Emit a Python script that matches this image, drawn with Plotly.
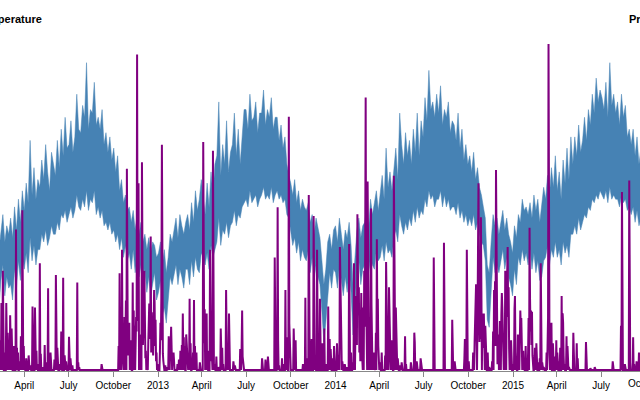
import pandas as pd
import plotly.graph_objects as go

# ---------------- axis ticks ----------------
tick_dates = ["2012-04-01", "2012-07-01", "2012-10-01", "2013-01-01", "2013-04-01",
              "2013-07-01", "2013-10-01", "2014-01-01", "2014-04-01", "2014-07-01",
              "2014-10-01", "2015-01-01", "2015-04-01", "2015-07-01", "2015-10-01"]
tick_labels = ["April", "July", "October", "2013", "April", "July", "October", "2014",
               "April", "July", "October", "2015", "April", "July", "October"]
x_window = ["2012-02-11 02:24", "2015-09-19 02:24"]

# ---------------- temperature (°C), sampled every 4 days from 2012-02-01 ----------------
temp_start = "2012-02-01"
tmax_2012 = [8.9, 11.1, 7.2, 10.0, 12.2, 8.3, 10.6, 9.4,
             11.7, 8.9, 13.3, 10.0, 14.4, 11.1, 15.6,
             12.8, 16.7, 13.9, 22.8, 15.0, 18.9, 14.4, 17.2,
             16.1, 20.0, 17.2, 22.2, 18.3, 15.6, 21.1, 19.4,
             17.8, 22.8, 18.9, 24.4, 20.6, 26.1, 21.7,
             22.2, 25.6, 21.1, 23.3, 29.4, 24.4, 23.9, 27.8,
             26.1, 33.9, 24.4, 27.2, 26.7, 31.1, 25.0, 26.1,
             24.4, 27.2, 22.2, 23.9, 21.1, 23.3, 20.0,
             21.7, 18.3, 20.6, 15.6, 17.2, 13.9, 15.0, 12.8,
             13.3, 11.1, 12.8, 10.0, 12.2, 9.4, 11.1,
             8.3, 9.4, 7.2, 8.9, 6.7, 8.3, 7.8, 6.1]
tmin_2012 = [1.1, 3.9, -1.0, 2.8, 5.0, 0.6, 3.3, 1.7,
             2.2, 0.0, 4.4, 1.7, 5.6, 2.8, 6.1,
             4.4, 6.7, 3.9, 8.9, 5.6, 7.8, 5.0, 7.2,
             7.2, 9.4, 8.3, 10.0, 7.8, 8.9, 10.6, 9.4,
             9.4, 11.1, 10.0, 12.2, 11.7, 12.8, 11.1,
             12.2, 13.3, 11.7, 12.8, 15.0, 13.3, 12.8, 14.4,
             13.3, 15.6, 12.8, 14.4, 13.9, 15.6, 12.2, 13.3,
             11.7, 12.8, 10.6, 11.1, 10.0, 11.1, 9.4,
             10.0, 8.3, 9.4, 7.2, 8.9, 6.1, 7.8, 5.6,
             6.7, 4.4, 7.2, 3.9, 6.1, 3.3, 5.0,
             2.8, 4.4, 1.1, 3.3, 0.6, 2.2, 3.9, 0.0]
tmax_2013 = [6.7, 8.3, 5.0, 7.2, 3.9, 6.1, 9.4, 8.3,
             10.0, 11.7, 8.9, 12.2, 10.6, 9.4, 11.1,
             12.2, 10.0, 13.9, 11.1, 15.6, 12.8, 14.4, 17.2,
             14.4, 12.2, 16.7, 13.3, 18.3, 15.0, 19.4,
             20.6, 28.3, 17.8, 22.2, 19.4, 25.6, 18.3, 21.1,
             22.2, 26.7, 20.6, 24.4, 19.4, 23.3, 27.2,
             27.2, 24.4, 29.4, 25.6, 26.1, 28.3, 23.9, 26.7,
             26.7, 30.0, 25.0, 27.2, 26.1, 28.9, 24.4, 26.1,
             26.1, 22.8, 25.0, 21.7, 23.3, 19.4, 17.8,
             16.7, 15.0, 17.2, 13.9, 15.6, 12.8, 14.4, 13.3,
             12.8, 13.9, 11.1, 12.2, 9.4, 11.7, 10.0, 8.9,
             5.6, 2.2, 4.4, 8.3, 9.4, 7.2, 10.0]
tmin_2013 = [1.1, 2.8, -2.2, -1.1, -3.3, 0.0, 3.3, 2.2,
             3.9, 5.0, 2.2, 4.4, 3.3, 1.7, 4.4,
             4.4, 2.2, 5.6, 3.3, 6.1, 4.4, 3.9, 6.7,
             6.1, 5.0, 6.7, 4.4, 7.8, 6.1, 7.2,
             8.3, 11.7, 7.8, 10.0, 9.4, 11.1, 8.9, 10.6,
             11.1, 12.8, 10.6, 12.2, 11.7, 13.3, 13.9,
             14.4, 13.3, 15.6, 13.9, 14.4, 15.0, 13.3, 14.4,
             15.0, 16.1, 14.4, 15.0, 14.4, 16.1, 13.9, 15.0,
             15.6, 14.4, 15.0, 13.9, 14.4, 12.2, 11.7,
             9.4, 7.8, 8.9, 6.7, 8.3, 5.6, 7.2, 6.1,
             5.6, 7.2, 3.9, 6.1, 2.8, 5.0, 3.3, 2.2,
             -1.7, -6.0, -3.3, 1.1, 3.9, 1.7, 4.4]
tmax_2014 = [10.6, 8.3, 11.7, 9.4, 7.2, 10.0, 8.9, 11.1,
             7.8, 2.2, 5.6, 10.0, 11.7, 8.9, 10.6,
             11.1, 13.3, 10.0, 14.4, 12.2, 13.9, 15.6, 12.8,
             15.0, 17.8, 14.4, 21.7, 16.1, 18.3, 15.6,
             18.9, 21.7, 17.2, 26.7, 22.2, 19.4, 23.9, 20.6,
             22.8, 19.4, 24.4, 21.1, 26.7, 20.6, 25.6, 23.3,
             28.9, 25.6, 32.8, 27.2, 28.3, 26.1, 29.4,
             26.7, 30.6, 25.0, 27.2, 26.1, 28.3, 23.9, 25.6,
             25.0, 22.8, 26.7, 21.7, 24.4, 20.0, 22.2, 19.4,
             20.6, 18.3, 21.1, 17.2, 18.9, 16.1, 15.0,
             13.3, 11.7, 5.0, 3.9, 8.3, 12.2, 10.6, 11.7,
             9.4, 11.1, 12.8, 10.0, 11.7, 9.4, 8.3, 6.7]
tmin_2014 = [3.9, 1.7, 5.0, 2.8, 0.6, 3.3, 1.1, 4.4,
             1.1, -5.0, -1.1, 3.9, 5.6, 2.2, 4.4,
             5.0, 6.7, 3.9, 6.1, 5.0, 4.4, 7.2, 5.6,
             6.1, 7.8, 5.6, 8.3, 6.7, 7.2, 6.1,
             8.9, 10.0, 8.3, 12.2, 10.6, 9.4, 11.1, 10.0,
             11.7, 10.6, 12.8, 11.1, 13.3, 11.7, 12.8, 12.2,
             14.4, 13.3, 15.6, 14.4, 15.0, 13.3, 14.4,
             14.4, 15.6, 13.3, 15.0, 13.3, 14.4, 12.8, 13.3,
             13.3, 12.2, 13.9, 11.7, 12.8, 11.1, 12.2, 10.6,
             11.7, 10.6, 12.2, 10.0, 11.1, 9.4, 8.3,
             7.8, 5.6, -2.8, -3.9, 1.1, 6.1, 3.9, 5.0,
             3.9, 5.6, 7.2, 4.4, 6.1, 3.3, 2.2, 0.6]
tmax_2015 = [10.6, 8.9, 12.2, 11.1, 14.4, 12.8, 13.3,
             12.2, 13.9, 11.7, 15.0, 12.8, 14.4, 11.1,
             13.3, 16.1, 14.4, 17.8, 15.0, 18.9, 16.1, 20.6,
             15.6, 18.3, 14.4, 20.0, 16.7, 21.7, 17.2, 23.3,
             19.4, 23.3, 20.6, 25.0, 21.1, 22.8, 26.1,
             22.8, 27.2, 25.0, 29.4, 26.7, 31.7, 28.3, 30.0,
             28.9, 27.2, 31.1, 26.1, 33.9, 27.8, 29.4, 26.7,
             28.3, 25.0, 29.4, 26.1, 27.8, 23.3, 24.4,
             22.2, 24.4, 20.6, 23.3, 19.4, 21.7, 18.9, 20.0]
tmin_2015 = [4.4, 2.2, 6.1, 5.0, 7.2, 5.6, 6.7,
             5.0, 7.2, 4.4, 6.7, 3.9, 5.6, 2.8,
             3.3, 5.6, 6.1, 7.8, 5.0, 7.2, 6.1, 8.3,
             6.1, 7.2, 5.0, 8.3, 6.7, 7.8, 6.1, 9.4,
             9.4, 10.6, 9.4, 11.7, 10.0, 11.1, 12.2,
             11.7, 13.3, 12.8, 14.4, 13.9, 15.0, 14.4, 15.6,
             15.0, 14.4, 15.6, 13.9, 16.1, 14.4, 15.0, 14.4,
             14.4, 13.3, 15.0, 13.9, 14.4, 12.8, 13.3,
             12.2, 13.3, 11.1, 12.8, 10.6, 11.7, 9.4, 10.6]

# ---------------- precipitation (mm) on wet days; all other days are dry ----------------
rain_2012 = [("2012-02-02", 4.3), ("2012-02-05", 2.5), ("2012-02-08", 1.8), ("2012-02-11", 5.1),
             ("2012-02-14", 11.5), ("2012-02-17", 17.0), ("2012-02-21", 3.0), ("2012-02-24", 11.5),
             ("2012-02-27", 6.4), ("2012-03-01", 2.0), ("2012-03-03", 9.4), ("2012-03-06", 7.1),
             ("2012-03-10", 4.1), ("2012-03-12", 2.3), ("2012-03-15", 24.1), ("2012-03-17", 3.8),
             ("2012-03-19", 3.0), ("2012-03-22", 1.5), ("2012-03-25", 5.8), ("2012-03-28", 27.4),
             ("2012-03-31", 4.1), ("2012-04-02", 1.3), ("2012-04-05", 2.0), ("2012-04-10", 2.5),
             ("2012-04-13", 0.8), ("2012-04-18", 10.9), ("2012-04-23", 10.7), ("2012-04-26", 3.3),
             ("2012-04-28", 1.0), ("2012-05-03", 18.3), ("2012-05-05", 2.8), ("2012-05-09", 0.5),
             ("2012-05-13", 4.3), ("2012-05-16", 1.3), ("2012-05-20", 14.0), ("2012-05-25", 3.0),
             ("2012-06-02", 1.8), ("2012-06-05", 16.3), ("2012-06-08", 3.8), ("2012-06-13", 1.0),
             ("2012-06-16", 6.6), ("2012-06-20", 15.8), ("2012-06-23", 2.5), ("2012-06-26", 1.5),
             ("2012-07-02", 5.7), ("2012-07-05", 2.0), ("2012-07-09", 0.8), ("2012-07-19", 15.0),
             ("2012-07-21", 1.3), ("2012-07-23", 0.5), ("2012-09-07", 1.0),
             ("2012-10-12", 4.1), ("2012-10-14", 16.6), ("2012-10-16", 6.9), ("2012-10-17", 2.0),
             ("2012-10-19", 20.6), ("2012-10-20", 3.8), ("2012-10-21", 7.9), ("2012-10-22", 1.3),
             ("2012-10-24", 9.1), ("2012-10-26", 4.8), ("2012-10-27", 11.9), ("2012-10-29", 34.5),
             ("2012-10-30", 6.1), ("2012-10-31", 2.5), ("2012-11-01", 4.6), ("2012-11-02", 3.0),
             ("2012-11-03", 8.1), ("2012-11-05", 1.0), ("2012-11-06", 5.1), ("2012-11-10", 15.0),
             ("2012-11-12", 10.2), ("2012-11-13", 3.3), ("2012-11-14", 7.6), ("2012-11-16", 2.8),
             ("2012-11-17", 9.1), ("2012-11-18", 6.6), ("2012-11-19", 54.1), ("2012-11-20", 12.7),
             ("2012-11-21", 8.4), ("2012-11-22", 32.0), ("2012-11-24", 3.6), ("2012-11-26", 1.5),
             ("2012-11-27", 6.1), ("2012-11-29", 35.6), ("2012-11-30", 10.9), ("2012-12-01", 4.3),
             ("2012-12-02", 7.6), ("2012-12-03", 9.4), ("2012-12-04", 17.0), ("2012-12-05", 5.1),
             ("2012-12-06", 2.0), ("2012-12-07", 3.3), ("2012-12-09", 1.3), ("2012-12-10", 0.5),
             ("2012-12-12", 4.6), ("2012-12-13", 6.9), ("2012-12-14", 11.4), ("2012-12-15", 8.1),
             ("2012-12-16", 5.3), ("2012-12-17", 22.9), ("2012-12-18", 3.0), ("2012-12-19", 9.9),
             ("2012-12-20", 6.4), ("2012-12-21", 4.3), ("2012-12-22", 2.5), ("2012-12-23", 7.1),
             ("2012-12-24", 13.7), ("2012-12-25", 11.7), ("2012-12-26", 4.1), ("2012-12-27", 8.6),
             ("2012-12-28", 1.5), ("2012-12-29", 3.0), ("2012-12-31", 1.0)]
rain_2013 = [("2013-01-05", 3.3), ("2013-01-06", 8.1), ("2013-01-07", 5.1), ("2013-01-08", 14.0),
             ("2013-01-09", 38.6), ("2013-01-10", 9.1), ("2013-01-11", 2.8), ("2013-01-12", 1.5),
             ("2013-01-16", 0.8), ("2013-01-20", 0.5), ("2013-01-23", 5.8), ("2013-01-24", 2.0),
             ("2013-01-26", 3.8), ("2013-01-27", 4.3), ("2013-01-28", 7.4), ("2013-01-29", 3.0),
             ("2013-01-31", 2.5), ("2013-02-01", 1.3), ("2013-02-02", 3.0), ("2013-02-03", 0.5),
             ("2013-02-10", 1.0), ("2013-02-13", 1.8), ("2013-02-16", 3.3), ("2013-02-19", 4.3),
             ("2013-02-21", 9.7), ("2013-02-22", 2.3), ("2013-02-23", 5.6), ("2013-02-25", 4.1),
             ("2013-02-28", 6.1), ("2013-03-01", 3.8), ("2013-03-02", 1.5), ("2013-03-05", 2.3),
             ("2013-03-07", 12.2), ("2013-03-09", 4.6), ("2013-03-12", 1.0), ("2013-03-14", 3.0),
             ("2013-03-16", 12.0), ("2013-03-18", 4.1), ("2013-03-20", 2.0), ("2013-03-21", 3.0),
             ("2013-03-28", 1.3), ("2013-04-04", 39.1), ("2013-04-05", 8.4), ("2013-04-06", 4.6),
             ("2013-04-07", 10.4), ("2013-04-09", 2.5), ("2013-04-11", 9.7), ("2013-04-13", 3.3),
             ("2013-04-18", 20.6), ("2013-04-19", 6.4), ("2013-04-20", 1.5), ("2013-04-21", 4.3),
             ("2013-04-24", 37.6), ("2013-04-27", 1.0), ("2013-05-01", 2.3), ("2013-05-05", 0.5),
             ("2013-05-10", 7.1), ("2013-05-13", 3.8), ("2013-05-15", 1.0), ("2013-05-21", 13.7),
             ("2013-05-22", 4.6), ("2013-05-24", 2.0), ("2013-05-27", 9.7), ("2013-05-28", 1.8),
             ("2013-06-05", 1.5), ("2013-06-08", 0.8), ("2013-06-19", 3.6), ("2013-06-22", 4.1),
             ("2013-06-23", 10.2), ("2013-06-24", 2.3), ("2013-06-25", 1.3), ("2013-08-03", 2.0),
             ("2013-08-10", 1.8), ("2013-08-15", 2.3), ("2013-08-29", 19.3), ("2013-08-30", 3.0),
             ("2013-09-03", 1.5), ("2013-09-04", 27.9), ("2013-09-05", 5.1), ("2013-09-07", 0.8),
             ("2013-09-13", 2.0), ("2013-09-15", 1.0), ("2013-09-20", 13.7), ("2013-09-22", 3.3),
             ("2013-09-23", 5.6), ("2013-09-27", 43.4), ("2013-09-28", 8.0), ("2013-09-29", 4.1),
             ("2013-10-07", 7.1), ("2013-10-10", 1.3), ("2013-10-11", 5.1), ("2013-10-26", 1.0),
             ("2013-10-31", 12.4), ("2013-11-02", 2.0), ("2013-11-07", 30.0), ("2013-11-08", 3.8),
             ("2013-11-12", 3.0), ("2013-11-13", 5.3), ("2013-11-17", 26.4), ("2013-11-18", 6.1),
             ("2013-11-19", 2.5), ("2013-11-21", 1.0), ("2013-11-24", 20.6), ("2013-11-25", 4.3),
             ("2013-11-30", 12.2), ("2013-12-01", 3.0), ("2013-12-05", 4.6), ("2013-12-09", 7.1),
             ("2013-12-13", 1.0), ("2013-12-17", 10.9), ("2013-12-18", 2.8), ("2013-12-20", 5.3),
             ("2013-12-22", 3.6), ("2013-12-26", 2.0), ("2013-12-29", 4.1)]
rain_2014 = [("2014-01-04", 4.6), ("2014-01-07", 2.5), ("2014-01-10", 21.1), ("2014-01-11", 13.0),
             ("2014-01-12", 4.8), ("2014-01-15", 1.5), ("2014-01-20", 1.0), ("2014-01-24", 0.5),
             ("2014-01-29", 21.6), ("2014-01-30", 5.6), ("2014-02-02", 3.0), ("2014-02-05", 1.3),
             ("2014-02-08", 18.3), ("2014-02-11", 6.6), ("2014-02-12", 12.7), ("2014-02-13", 8.9),
             ("2014-02-14", 4.3), ("2014-02-15", 26.7), ("2014-02-16", 17.5), ("2014-02-17", 9.4),
             ("2014-02-18", 14.2), ("2014-02-19", 3.0), ("2014-02-20", 6.1), ("2014-02-21", 1.5),
             ("2014-02-22", 8.4), ("2014-02-23", 13.2), ("2014-02-24", 3.8), ("2014-02-25", 2.3),
             ("2014-02-27", 10.7), ("2014-03-01", 17.0), ("2014-03-02", 7.4), ("2014-03-03", 20.6),
             ("2014-03-04", 46.7), ("2014-03-05", 12.4), ("2014-03-06", 8.1), ("2014-03-08", 32.3),
             ("2014-03-09", 21.3), ("2014-03-10", 4.6), ("2014-03-12", 1.5), ("2014-03-13", 9.1),
             ("2014-03-15", 27.7), ("2014-03-16", 11.2), ("2014-03-17", 3.3), ("2014-03-19", 1.5),
             ("2014-03-21", 3.0), ("2014-03-23", 0.5), ("2014-03-25", 6.4), ("2014-03-27", 22.4),
             ("2014-03-28", 8.6), ("2014-03-29", 12.2), ("2014-03-30", 4.1), ("2014-03-31", 1.0),
             ("2014-04-02", 1.3), ("2014-04-06", 3.0), ("2014-04-13", 2.5), ("2014-04-15", 18.5),
             ("2014-04-16", 6.9), ("2014-04-17", 11.2), ("2014-04-19", 4.1), ("2014-04-21", 14.2),
             ("2014-04-22", 6.1), ("2014-04-23", 8.6), ("2014-04-24", 1.8), ("2014-04-26", 5.1),
             ("2014-04-28", 1.0), ("2014-05-01", 33.3), ("2014-05-02", 12.4), ("2014-05-03", 6.4),
             ("2014-05-05", 10.7), ("2014-05-06", 4.6), ("2014-05-09", 2.0), ("2014-05-14", 0.8),
             ("2014-05-17", 1.3), ("2014-05-24", 5.8), ("2014-05-26", 1.0), ("2014-06-05", 1.3),
             ("2014-06-12", 6.4), ("2014-06-13", 4.8), ("2014-06-17", 1.5), ("2014-06-25", 2.0),
             ("2014-06-26", 1.0), ("2014-07-22", 19.3), ("2014-07-23", 1.3), ("2014-08-12", 21.8),
             ("2014-08-13", 2.0), ("2014-08-29", 8.6), ("2014-08-30", 1.0), ("2014-09-03", 1.5),
             ("2014-09-23", 2.0), ("2014-09-24", 5.3), ("2014-09-28", 20.6), ("2014-09-29", 1.0),
             ("2014-10-02", 1.5), ("2014-10-11", 3.0), ("2014-10-14", 4.8), ("2014-10-15", 7.4),
             ("2014-10-16", 12.7), ("2014-10-17", 14.7), ("2014-10-18", 6.1), ("2014-10-20", 8.9),
             ("2014-10-21", 16.0), ("2014-10-22", 32.0), ("2014-10-23", 11.9), ("2014-10-24", 4.8),
             ("2014-10-25", 8.4), ("2014-10-26", 5.3), ("2014-10-27", 26.2), ("2014-10-28", 13.5),
             ("2014-10-30", 9.7), ("2014-10-31", 3.8), ("2014-11-01", 5.1), ("2014-11-02", 9.7),
             ("2014-11-03", 3.0), ("2014-11-05", 7.6), ("2014-11-06", 4.1), ("2014-11-10", 3.0),
             ("2014-11-13", 0.5), ("2014-11-19", 1.5), ("2014-11-21", 6.6), ("2014-11-23", 13.7),
             ("2014-11-24", 8.9), ("2014-11-25", 15.2), ("2014-11-26", 4.1), ("2014-11-27", 34.3),
             ("2014-11-28", 13.0), ("2014-11-29", 2.5), ("2014-11-30", 1.0), ("2014-12-01", 3.3),
             ("2014-12-02", 6.1), ("2014-12-04", 4.6), ("2014-12-05", 8.4), ("2014-12-06", 1.3),
             ("2014-12-08", 9.4), ("2014-12-09", 13.2), ("2014-12-10", 10.7), ("2014-12-11", 5.6),
             ("2014-12-12", 3.0), ("2014-12-14", 4.1), ("2014-12-16", 17.0), ("2014-12-17", 7.1),
             ("2014-12-19", 12.4), ("2014-12-20", 18.0), ("2014-12-21", 21.1), ("2014-12-22", 9.1),
             ("2014-12-23", 14.2), ("2014-12-24", 3.6), ("2014-12-26", 2.8), ("2014-12-28", 5.1),
             ("2014-12-29", 1.5)]
rain_2015 = [("2015-01-02", 1.0), ("2015-01-04", 10.4), ("2015-01-05", 12.7), ("2015-01-06", 3.0),
             ("2015-01-08", 1.5), ("2015-01-11", 6.1), ("2015-01-13", 2.0), ("2015-01-15", 5.6),
             ("2015-01-16", 10.2), ("2015-01-17", 7.4), ("2015-01-18", 8.9), ("2015-01-19", 4.8),
             ("2015-01-21", 2.3), ("2015-01-22", 3.3), ("2015-01-24", 1.5), ("2015-01-27", 4.1),
             ("2015-01-29", 1.0), ("2015-02-01", 3.0), ("2015-02-02", 8.9), ("2015-02-04", 24.4),
             ("2015-02-05", 12.2), ("2015-02-06", 6.6), ("2015-02-07", 10.2), ("2015-02-08", 4.3),
             ("2015-02-09", 10.0), ("2015-02-10", 2.5), ("2015-02-14", 1.0), ("2015-02-15", 3.8),
             ("2015-02-18", 4.6), ("2015-02-22", 1.3), ("2015-02-25", 2.0), ("2015-02-27", 18.3),
             ("2015-02-28", 3.3), ("2015-03-02", 1.3), ("2015-03-05", 0.5), ("2015-03-11", 3.0),
             ("2015-03-13", 4.1), ("2015-03-14", 8.9), ("2015-03-15", 55.9), ("2015-03-16", 10.2),
             ("2015-03-17", 2.8), ("2015-03-19", 1.5), ("2015-03-21", 8.1), ("2015-03-24", 4.6),
             ("2015-03-25", 1.0), ("2015-03-29", 2.3), ("2015-03-31", 5.1), ("2015-04-02", 3.0),
             ("2015-04-06", 1.5), ("2015-04-08", 3.8), ("2015-04-11", 12.7), ("2015-04-13", 9.7),
             ("2015-04-14", 8.1), ("2015-04-15", 2.5), ("2015-04-17", 1.0), ("2015-04-21", 5.8),
             ("2015-04-23", 4.1), ("2015-04-24", 1.5), ("2015-04-26", 0.5), ("2015-05-05", 6.4),
             ("2015-05-06", 1.3), ("2015-05-12", 4.6), ("2015-05-14", 2.0), ("2015-05-31", 4.8),
             ("2015-06-09", 0.3), ("2015-06-18", 0.5), ("2015-07-25", 1.5), ("2015-08-11", 7.6),
             ("2015-08-13", 30.5), ("2015-08-14", 2.0), ("2015-08-19", 1.0), ("2015-08-28", 32.5),
             ("2015-08-29", 5.8), ("2015-08-30", 1.3), ("2015-09-05", 5.6), ("2015-09-07", 1.0),
             ("2015-09-12", 1.5), ("2015-09-17", 3.0), ("2015-09-18", 0.8)]

# ---------------- build series ----------------
tmax = tmax_2012 + tmax_2013 + tmax_2014 + tmax_2015
tmin = tmin_2012 + tmin_2013 + tmin_2014 + tmin_2015
assert len(tmax) == len(tmin), (len(tmax), len(tmin))
temp_dates = pd.date_range(temp_start, periods=len(tmax), freq="4D")

days = pd.date_range("2012-02-01", "2015-09-30", freq="D")
rain = pd.Series(0.0, index=days)
for d, v in rain_2012 + rain_2013 + rain_2014 + rain_2015:
    rain[pd.Timestamp(d)] = v

BLUE = "#4682b4"
PURPLE = "#800080"
FONT = "Liberation Sans"

fig = go.Figure()
fig.add_trace(go.Scatter(x=temp_dates, y=tmin, mode="lines",
                         line=dict(width=0.5, color=BLUE), showlegend=False, hoverinfo="skip"))
fig.add_trace(go.Scatter(x=temp_dates, y=tmax, mode="lines", fill="tonexty", fillcolor=BLUE,
                         line=dict(width=0.5, color=BLUE), showlegend=False))
fig.add_trace(go.Scatter(x=rain.index, y=rain.values, mode="lines", yaxis="y2",
                         line=dict(width=2, color=PURPLE), showlegend=False))

fig.update_layout(
    width=640, height=400,
    margin=dict(l=0, r=0, t=20, b=29),
    paper_bgcolor="white", plot_bgcolor="white",
    showlegend=False,
    xaxis=dict(type="date", range=x_window, tickvals=tick_dates, ticktext=tick_labels,
               ticks="outside", ticklen=5, tickwidth=1, tickcolor="#888",
               showline=True, linecolor="#888", linewidth=1, showgrid=False, zeroline=False,
               tickfont=dict(family=FONT, size=10, color="#000"), layer="below traces"),
    yaxis=dict(range=[-10.143, 40], visible=False, showgrid=False, zeroline=False),
    yaxis2=dict(range=[-0.171, 60], overlaying="y", visible=False, showgrid=False, zeroline=False),
    annotations=[
        dict(text="Temperature", xref="paper", yref="paper", x=-25.6 / 640, y=(371 - 19) / 351,
             xanchor="left", yanchor="middle", showarrow=False,
             font=dict(family=FONT, size=11, color="#000", weight="bold")),
        dict(text="Precipitation", xref="paper", yref="paper", x=627 / 640, y=(371 - 19) / 351,
             xanchor="left", yanchor="middle", showarrow=False,
             font=dict(family=FONT, size=11, color="#000", weight="bold")),
        dict(text="October", xref="paper", yref="paper", x=645.8 / 640, y=0, yshift=-12,
             xanchor="center", yanchor="middle", showarrow=False,
             font=dict(family=FONT, size=10, color="#000")),
    ],
)

fig.write_html("out.html", config={"displayModeBar": False})
